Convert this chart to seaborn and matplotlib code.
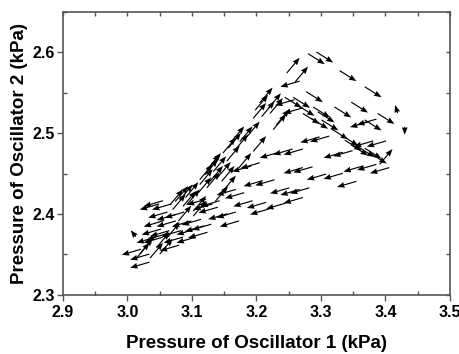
import numpy as np
import matplotlib
matplotlib.use("Agg")
import matplotlib.pyplot as plt
from matplotlib.ticker import MultipleLocator
import seaborn as sns

# arrow centres (kPa) and components, grouped by flow direction
# up-right, along the left rising edge
ur_x = [3.257, 3.270, 3.215, 3.208, 3.228, 3.231, 3.218, 3.205, 3.241, 3.236,
        3.171, 3.184, 3.166, 3.177, 3.158, 3.205, 3.164, 3.182, 3.133, 3.143,
        3.135, 3.130, 3.122, 3.138, 3.156, 3.122, 3.133, 3.158, 3.120, 3.146,
        3.091, 3.084, 3.096, 3.076, 3.102, 3.112, 3.089, 3.112, 3.055, 3.024,
        3.045, 3.029, 3.060, 3.071, 3.401, 3.195, 3.150, 3.100, 3.080]
ur_y = [2.584, 2.573, 2.547, 2.538, 2.540, 2.534, 2.530, 2.528, 2.520, 2.514,
        2.499, 2.499, 2.491, 2.489, 2.485, 2.487, 2.475, 2.466, 2.464, 2.462,
        2.466, 2.458, 2.452, 2.450, 2.450, 2.446, 2.442, 2.438, 2.436, 2.425,
        2.427, 2.425, 2.419, 2.421, 2.421, 2.413, 2.401, 2.407, 2.368, 2.355,
        2.355, 2.360, 2.360, 2.380, 2.471, 2.505, 2.455, 2.430, 2.415]

# down-right, along the upper and inner falling edges
dr_x = [3.293, 3.306, 3.342, 3.381, 3.290, 3.334, 3.360, 3.401, 3.308, 3.270,
        3.257, 3.277, 3.301, 3.298, 3.314, 3.381, 3.329, 3.345, 3.360, 3.381,
        3.285, 3.350, 3.370, 3.389]
dr_y = [2.592, 2.594, 2.571, 2.551, 2.545, 2.526, 2.532, 2.518, 2.520, 2.538,
        2.538, 2.528, 2.526, 2.512, 2.510, 2.510, 2.499, 2.491, 2.479, 2.475,
        2.518, 2.485, 2.477, 2.469]

# left-down, the returning bands
lf_x = [3.252, 3.244, 3.257, 3.360, 3.371, 3.298, 3.283, 3.366, 3.386, 3.241,
        3.257, 3.319, 3.334, 3.257, 3.272, 3.350, 3.371, 3.391, 3.293, 3.319,
        3.177, 3.190, 3.195, 3.213, 3.236, 3.252, 3.267, 3.257, 3.153, 3.166,
        3.179, 3.200, 3.205, 3.125, 3.140, 3.153, 3.158, 3.104, 3.115, 3.109,
        3.091, 3.117, 3.128, 3.107, 3.040, 3.034, 3.053, 3.047, 3.073, 3.040,
        3.060, 3.084, 3.099, 3.037, 3.050, 3.068, 3.040, 3.071, 3.091, 3.065,
        3.006, 3.019, 3.019, 3.029, 3.220, 3.340, 3.230, 3.060, 3.045]
lf_y = [2.561, 2.538, 2.528, 2.511, 2.514, 2.493, 2.492, 2.487, 2.487, 2.477,
        2.477, 2.473, 2.475, 2.454, 2.455, 2.456, 2.458, 2.454, 2.446, 2.447,
        2.456, 2.460, 2.438, 2.439, 2.429, 2.427, 2.429, 2.417, 2.427, 2.423,
        2.413, 2.411, 2.403, 2.405, 2.397, 2.399, 2.388, 2.382, 2.384, 2.374,
        2.378, 2.409, 2.413, 2.415, 2.413, 2.409, 2.409, 2.399, 2.399, 2.388,
        2.388, 2.388, 2.390, 2.378, 2.376, 2.376, 2.368, 2.368, 2.368, 2.358,
        2.353, 2.347, 2.337, 2.368, 2.473, 2.437, 2.410, 2.396, 2.372]

# odd ones near the right tip and the lower-left corner
odd_x = [3.417, 3.430, 3.009]
odd_y = [2.530, 2.503, 2.376]
odd_u = [-0.004, 0.000, -0.008]
odd_v = [0.010, -0.010, 0.008]

ur_u, ur_v = 0.020, 0.019
dr_u, dr_v = 0.026, -0.013
lf_u, lf_v = -0.030, -0.007

x = ur_x + dr_x + lf_x + odd_x
y = ur_y + dr_y + lf_y + odd_y
u = [ur_u] * len(ur_x) + [dr_u] * len(dr_x) + [lf_u] * len(lf_x) + odd_u
v = [ur_v] * len(ur_x) + [dr_v] * len(dr_x) + [lf_v] * len(lf_x) + odd_v

sns.set_theme(style="ticks")
plt.rcParams["font.family"] = ["Liberation Sans", "DejaVu Sans"]

fig = plt.figure(figsize=(4.6, 3.54), dpi=100)
ax = fig.add_axes([0.137, 0.167, 0.841, 0.799])

ax.quiver(x, y, u, v, angles="xy", scale_units="xy", scale=1, pivot="mid",
          color="black", width=0.003, headwidth=5, headlength=6.5,
          headaxislength=6)

ax.set_xlim(2.9, 3.5)
ax.set_ylim(2.3, 2.65)
ax.xaxis.set_minor_locator(MultipleLocator(0.05))
ax.yaxis.set_minor_locator(MultipleLocator(0.05))
ax.set_xticks(np.arange(2.9, 3.51, 0.1))
ax.set_yticks(np.arange(2.3, 2.61, 0.1))

spine_col = "#555555"
for s in ax.spines.values():
    s.set_color(spine_col)
    s.set_linewidth(1.2)
ax.tick_params(which="major", direction="out", length=4, width=1,
               color=spine_col, labelsize=11.5, labelcolor="black")
ax.tick_params(axis="x", which="major", pad=3)
ax.tick_params(axis="y", which="major", pad=2)
ax.tick_params(which="minor", direction="in", length=3, width=1,
               color=spine_col)
for lab in ax.get_xticklabels() + ax.get_yticklabels():
    lab.set_fontweight("bold")

top = ax.secondary_xaxis("top")
top.xaxis.set_major_locator(MultipleLocator(0.05))
top.tick_params(direction="in", length=3, width=1, color=spine_col,
                labeltop=False)
right = ax.secondary_yaxis("right")
right.yaxis.set_major_locator(MultipleLocator(0.05))
right.tick_params(direction="in", length=3, width=1, color=spine_col,
                  labelright=False)
top.spines["top"].set_visible(False)
right.spines["right"].set_visible(False)

ax.set_xlabel("Pressure of Oscillator 1 (kPa)", fontsize=13.5, fontweight="bold",
              labelpad=11, color="black")
ax.set_ylabel("Pressure of Oscillator 2 (kPa)", fontsize=13.5, fontweight="bold",
              labelpad=3, color="black")

fig.savefig("out.png", dpi=100)
